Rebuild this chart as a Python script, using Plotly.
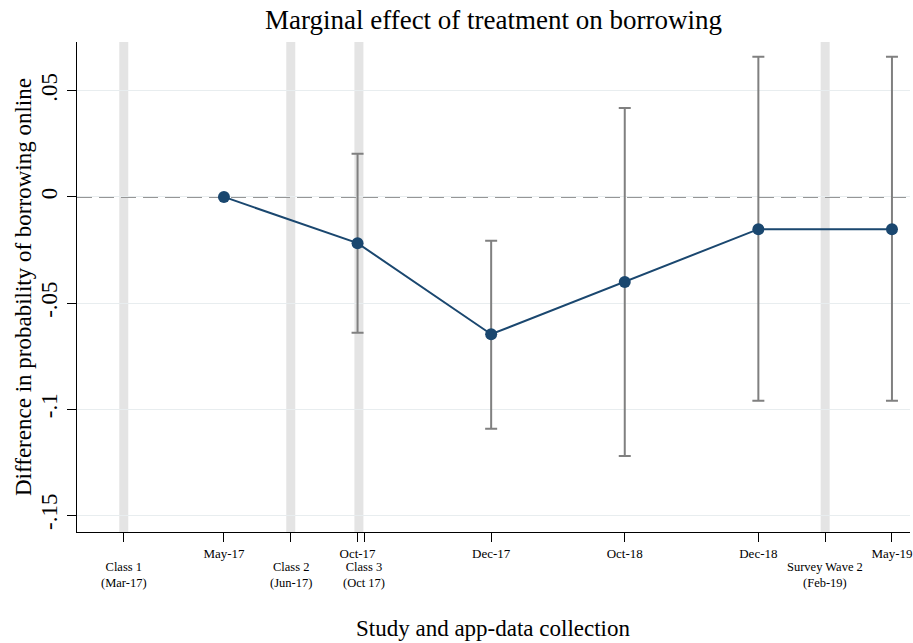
import plotly.graph_objects as go

# Data
periods = ["May-17", "Oct-17", "Dec-17", "Oct-18", "Dec-18", "May-19"]
period_pos = [1, 2, 3, 4, 5, 6]
effect = [0.0, -0.0218, -0.0647, -0.0401, -0.0152, -0.0152]
ci_low = [None, -0.0640, -0.1092, -0.1221, -0.0961, -0.0961]
ci_high = [None, 0.0203, -0.0207, 0.0419, 0.0661, 0.0661]

event_names = ["Class 1", "Class 2", "Class 3", "Survey Wave 2"]
event_dates = ["(Mar-17)", "(Jun-17)", "(Oct 17)", "(Feb-19)"]
event_pos = [0.25, 1.5, 2.05, 5.5]
event_band_pos = [0.25, 1.5, 2.01, 5.5]

ytick_vals = [-0.15, -0.1, -0.05, 0, 0.05]
ytick_text = ["-.15", "-.1", "-.05", "0", ".05"]

FONT = "Liberation Serif"
NAVY = "#1a476f"
GRAYBAR = "#808080"

# plot-area geometry (pixels)
W, H = 913, 643
L, R, T, B = 77, 3, 42, 111
PH = H - T - B
PW = W - L - R

def py(pix):
    """pixel y (from top) -> paper y"""
    return (H - B - pix) / PH

def px(pix):
    return (pix - L) / PW

fig = go.Figure()

ci_x = [p for p, lo in zip(period_pos, ci_low) if lo is not None]
ci_y = [e for e, lo in zip(effect, ci_low) if lo is not None]
plus = [hi - e for e, lo, hi in zip(effect, ci_low, ci_high) if lo is not None]
minus = [e - lo for e, lo in zip(effect, ci_low) if lo is not None]

fig.add_trace(go.Scatter(
    x=ci_x, y=ci_y, mode="markers",
    marker=dict(size=1, color="rgba(0,0,0,0)"),
    error_y=dict(type="data", symmetric=False, array=plus, arrayminus=minus,
                 color=GRAYBAR, thickness=2, width=6),
    showlegend=False, hoverinfo="skip"))

fig.add_trace(go.Scatter(
    x=period_pos, y=effect, mode="lines+markers",
    line=dict(color=NAVY, width=2),
    marker=dict(size=12, color=NAVY),
    showlegend=False))

shapes = []
for xp in event_band_pos:
    shapes.append(dict(type="line", xref="x", yref="paper", x0=xp, x1=xp, y0=0, y1=1,
                       line=dict(color="#e4e4e4", width=9), layer="between"))
shapes.append(dict(type="line", xref="paper", yref="y", x0=0, x1=1, y0=0, y1=0,
                   line=dict(color="#969696", width=2, dash="15px,7px"), layer="between"))

annotations = []
for xp, nm, dt in zip(event_pos, event_names, event_dates):
    annotations.append(dict(x=xp, xref="x", y=py(574.5), yref="paper", text=nm + "<br>" + dt,
                            showarrow=False, xanchor="center", yanchor="middle",
                            font=dict(family=FONT, size=12.5)))
annotations.append(dict(x=0.5, xref="paper", y=py(628), yref="paper",
                        text="Study and app-data collection", showarrow=False,
                        xanchor="center", yanchor="middle", font=dict(family=FONT, size=23)))
annotations.append(dict(x=px(23), xref="paper", y=0.5, yref="paper",
                        text="Difference in probability of borrowing online", showarrow=False,
                        textangle=-90, xanchor="center", yanchor="middle",
                        font=dict(family=FONT, size=23)))

tickvals = event_pos + period_pos
ticktext = ["" for _ in event_pos] + periods

fig.update_layout(
    width=W, height=H,
    margin=dict(l=L, r=R, t=T, b=B, autoexpand=False),
    paper_bgcolor="white", plot_bgcolor="white",
    font=dict(family=FONT, color="black"),
    title=dict(text="Marginal effect of treatment on borrowing", x=0.5, xanchor="center",
               y=1 - 20 / H, yanchor="middle", xref="paper",
               font=dict(family=FONT, size=27, color="black")),
    shapes=shapes,
    annotations=annotations,
    xaxis=dict(range=[-0.10, 6.135], tickmode="array", tickvals=tickvals, ticktext=ticktext,
               tickfont=dict(family=FONT, size=13), ticks="outside", ticklen=9,
               tickcolor="black", showline=True, linecolor="black", linewidth=1.2,
               showgrid=False, zeroline=False, tickangle=0, automargin=False),
    yaxis=dict(range=[-0.1579, 0.0730], tickmode="array", tickvals=ytick_vals, ticktext=ytick_text,
               tickfont=dict(family=FONT, size=23), tickangle=-90, ticks="outside", ticklen=9,
               ticklabelstandoff=1,
               tickcolor="black", showline=True, linecolor="black", linewidth=1.2,
               showgrid=True, gridcolor="#e8edef", gridwidth=1, zeroline=False, automargin=False),
)

fig.write_html("out.html", config={"displayModeBar": False},
               post_script="document.body.style.margin='0px';")
